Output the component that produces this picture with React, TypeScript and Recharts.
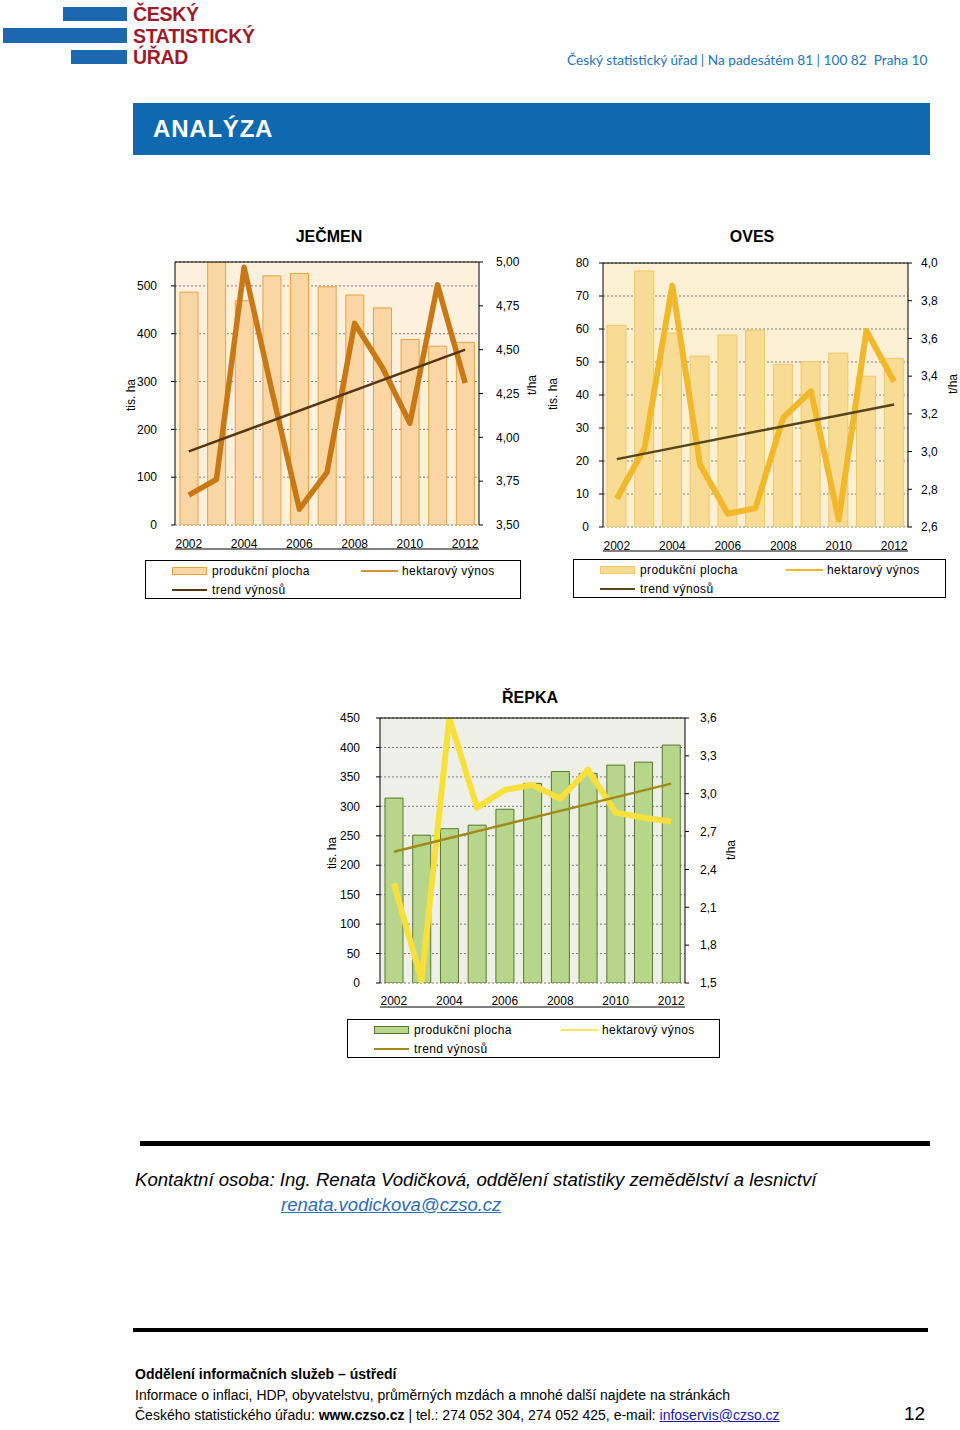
import React from 'react';
import { ComposedChart, Bar, Line, XAxis, YAxis, CartesianGrid, ReferenceLine } from 'recharts';

// ---------- data ----------
const years = ['2002', '2003', '2004', '2005', '2006', '2007', '2008', '2009', '2010', '2011', '2012'];

// JEČMEN (barley)
const jecmenArea = [487, 550, 469, 521, 526, 498, 481, 454, 388, 374, 382];
const jecmenYield = [3.67, 3.76, 4.97, 4.27, 3.59, 3.8, 4.65, 4.4, 4.08, 4.87, 4.31];
const jecmenTrend = [3.92, null, null, null, null, null, null, null, null, null, 4.5];
const jecmenAreaTicks = [0, 100, 200, 300, 400, 500];
const jecmenYieldTicks = [3.5, 3.75, 4.0, 4.25, 4.5, 4.75, 5.0];

// OVES (oats)
const ovesArea = [61.1, 77.6, 58.8, 51.8, 58.2, 59.6, 49.3, 50.1, 52.7, 45.7, 51.1];
const ovesYield = [2.75, 3.02, 3.88, 2.93, 2.67, 2.7, 3.18, 3.32, 2.64, 3.64, 3.37];
const ovesTrend = [2.96, null, null, null, null, null, null, null, null, null, 3.25];
const ovesAreaTicks = [0, 10, 20, 30, 40, 50, 60, 70, 80];
const ovesYieldTicks = [2.6, 2.8, 3.0, 3.2, 3.4, 3.6, 3.8, 4.0];

// ŘEPKA (rapeseed)
const repkaArea = [314, 251, 262, 268, 295, 339, 359, 356, 370, 375, 404];
const repkaYield = [2.29, 1.52, 3.6, 2.89, 3.03, 3.07, 2.96, 3.19, 2.85, 2.81, 2.78];
const repkaTrend = [2.54, null, null, null, null, null, null, null, null, null, 3.08];
const repkaAreaTicks = [0, 50, 100, 150, 200, 250, 300, 350, 400, 450];
const repkaYieldTicks = [1.5, 1.8, 2.1, 2.4, 2.7, 3.0, 3.3, 3.6];

const legendLabels = ['produkční plocha', 'hektarový výnos', 'trend výnosů'];
const axisTitles = ['tis. ha', 't/ha'];

const FONT = '"Liberation Sans", Arial, Helvetica, sans-serif';

type Cfg = {
  left: number; top: number; width: number; height: number;
  margin: { top: number; right: number; bottom: number; left: number };
  area: number[]; yld: number[]; trend: (number | null)[];
  leftTicks: number[]; leftMax: number;
  rightTicks: number[]; rightDecimals: number;
  bg: string; barFill: string; barStroke: string; barSize: number;
  yieldColor: string; yieldWidth: number; trendColor: string;
  leftTickMargin: number; rightTickMargin: number; xTickMargin: number;
};

function fmtComma(v: number, d: number) {
  return v.toFixed(d).replace('.', ',');
}

function CropChart({ c }: { c: Cfg }) {
  const data = years.map((y, i) => ({ year: y, area: c.area[i], yld: c.yld[i], trend: c.trend[i] }));
  const boundaryTicks = years.map((_, i) => i).concat([years.length]);
  const tickStyle = { fill: '#000', fontSize: 12, fontFamily: FONT };
  return (
    <div style={{ position: 'absolute', left: c.left, top: c.top }}>
      <ComposedChart width={c.width} height={c.height} data={data} margin={c.margin}>
        <CartesianGrid
          xAxisId="cat"
          yAxisId="l"
          vertical={false}
          stroke="#7a7a7a"
          strokeDasharray="2 2"
          fill={c.bg}
          fillOpacity={1}
        />
        <XAxis
          xAxisId="tk"
          type="number"
          domain={[0, years.length]}
          ticks={boundaryTicks}
          allowDataOverflow
          height={1}
          tick={false}
          tickSize={5}
          stroke="#000"
        />
        <XAxis
          xAxisId="cat"
          dataKey="year"
          interval={0}
          height={24}
          axisLine={false}
          tickLine={false}
          tickSize={0}
          tickMargin={c.xTickMargin}
          tick={tickStyle}
          tickFormatter={(v: string, i: number) => (i % 2 === 0 ? v : '')}
        />
        <YAxis
          yAxisId="l"
          width={40}
          domain={[0, c.leftMax]}
          ticks={c.leftTicks}
          allowDataOverflow
          stroke="#000"
          tickSize={4}
          tickMargin={c.leftTickMargin}
          tick={tickStyle}
        />
        <YAxis
          yAxisId="r"
          orientation="right"
          width={40}
          domain={[c.rightTicks[0], c.rightTicks[c.rightTicks.length - 1]]}
          ticks={c.rightTicks}
          allowDataOverflow
          stroke="#000"
          tickSize={4}
          tickMargin={c.rightTickMargin}
          tick={tickStyle}
          tickFormatter={(v: number) => fmtComma(v, c.rightDecimals)}
        />
        <Bar
          xAxisId="cat"
          yAxisId="l"
          dataKey="area"
          fill={c.barFill}
          stroke={c.barStroke}
          strokeWidth={1}
          barSize={c.barSize}
          isAnimationActive={false}
        />
        <Line
          xAxisId="cat"
          yAxisId="r"
          dataKey="yld"
          type="linear"
          stroke={c.yieldColor}
          strokeWidth={c.yieldWidth}
          strokeLinejoin="round"
          dot={false}
          activeDot={false}
          isAnimationActive={false}
        />
        <Line
          xAxisId="cat"
          yAxisId="r"
          dataKey="trend"
          type="linear"
          connectNulls
          stroke={c.trendColor}
          strokeWidth={2.5}
          dot={false}
          activeDot={false}
          isAnimationActive={false}
        />
        <ReferenceLine xAxisId="cat" yAxisId="l" y={c.leftMax} stroke="#000" strokeWidth={1} />
      </ComposedChart>
    </div>
  );
}

function VText({ x, y, text }: { x: number; y: number; text: string }) {
  return (
    <div
      style={{
        position: 'absolute', left: x, top: y, transform: 'translate(-50%, -50%) rotate(-90deg)',
        whiteSpace: 'nowrap', fontSize: 12, fontFamily: FONT, color: '#000',
      }}
    >
      {text}
    </div>
  );
}

type LegendCfg = {
  x: number; y: number; w: number; h: number;
  barFill: string; barStroke: string; yieldColor: string; trendColor: string;
  col2: number;
};

function LegendBox({ l }: { l: LegendCfg }) {
  const txt: React.CSSProperties = {
    position: 'absolute', fontSize: 12, fontFamily: FONT, letterSpacing: 0.4, whiteSpace: 'nowrap', lineHeight: '14px',
  };
  return (
    <div style={{ position: 'absolute', left: l.x, top: l.y, width: l.w, height: l.h, border: '1px solid #000', boxSizing: 'border-box', background: '#fff' }}>
      <div style={{ position: 'absolute', left: 26, top: 6, width: 35, height: 8, background: l.barFill, border: `1px solid ${l.barStroke}`, boxSizing: 'border-box' }} />
      <div style={{ ...txt, left: 66, top: 3 }}>{legendLabels[0]}</div>
      <div style={{ position: 'absolute', left: l.col2, top: 9, width: 37, height: 2, background: l.yieldColor }} />
      <div style={{ ...txt, left: l.col2 + 41, top: 3 }}>{legendLabels[1]}</div>
      <div style={{ position: 'absolute', left: 26, top: 28, width: 35, height: 2, background: l.trendColor }} />
      <div style={{ ...txt, left: 66, top: 22 }}>{legendLabels[2]}</div>
    </div>
  );
}

const jecmenCfg: Cfg = {
  left: 120, top: 250, width: 440, height: 310,
  margin: { top: 12, right: 41, bottom: 10, left: 15 },
  area: jecmenArea, yld: jecmenYield, trend: jecmenTrend,
  leftTicks: jecmenAreaTicks, leftMax: 550,
  rightTicks: jecmenYieldTicks, rightDecimals: 2,
  bg: '#fdf0dd', barFill: '#f9d6a4', barStroke: '#e5a346', barSize: 18,
  yieldColor: '#c97816', yieldWidth: 5.5, trendColor: '#553612',
  leftTickMargin: 14, rightTickMargin: 13, xTickMargin: 14,
};

const ovesCfg: Cfg = {
  left: 548, top: 250, width: 412, height: 312,
  margin: { top: 13, right: 12, bottom: 10, left: 15 },
  area: ovesArea, yld: ovesYield, trend: ovesTrend,
  leftTicks: ovesAreaTicks, leftMax: 80,
  rightTicks: ovesYieldTicks, rightDecimals: 1,
  bg: '#fcf0d4', barFill: '#f8dc95', barStroke: '#f0c766', barSize: 19,
  yieldColor: '#f0b82a', yieldWidth: 6, trendColor: '#574418',
  leftTickMargin: 10, rightTickMargin: 9, xTickMargin: 14,
};

const repkaCfg: Cfg = {
  left: 320, top: 705, width: 420, height: 313,
  margin: { top: 13, right: 15, bottom: 10, left: 20 },
  area: repkaArea, yld: repkaYield, trend: repkaTrend,
  leftTicks: repkaAreaTicks, leftMax: 450,
  rightTicks: repkaYieldTicks, rightDecimals: 1,
  bg: '#eef0e8', barFill: '#b8d68b', barStroke: '#56772a', barSize: 18,
  yieldColor: '#f8e03c', yieldWidth: 6, trendColor: '#a08b18',
  leftTickMargin: 16, rightTickMargin: 11, xTickMargin: 13,
};

const title: React.CSSProperties = {
  position: 'absolute', fontFamily: FONT, fontWeight: 'bold', fontSize: 16, transform: 'translate(-50%, -50%)', whiteSpace: 'nowrap',
};

const footFont = '"Liberation Sans", Arial, sans-serif';

export default function App() {
  return (
    <div style={{ position: 'absolute', left: 0, top: 0, width: 960, height: 1430, background: '#fff', fontFamily: FONT, overflow: 'hidden' }}>
      {/* Logo */}
      <div style={{ position: 'absolute', left: 63, top: 7, width: 64, height: 14, background: '#1b68ae' }} />
      <div style={{ position: 'absolute', left: 3, top: 28, width: 124, height: 15, background: '#1b68ae' }} />
      <div style={{ position: 'absolute', left: 71, top: 50, width: 56, height: 14, background: '#1b68ae' }} />
      <div style={{ position: 'absolute', left: 133, top: 4, color: '#9c1b2b', fontWeight: 'bold', fontSize: 19.5, lineHeight: '21.5px', letterSpacing: -0.3 }}>
        <div>ČESKÝ</div>
        <div>STATISTICKÝ</div>
        <div>ÚŘAD</div>
      </div>
      <div style={{ position: 'absolute', left: 567, top: 51, color: '#2375b5', fontFamily: 'Lato, "Noto Sans", sans-serif', fontSize: 13.7, whiteSpace: 'pre' }}>
        {'Český statistický úřad | Na padesátém 81 | 100 82  Praha 10'}
      </div>
      {/* Band */}
      <div style={{ position: 'absolute', left: 133, top: 103, width: 797, height: 52, background: '#0f69b0' }}>
        <div style={{ position: 'absolute', left: 20, top: 12, color: '#fff', fontWeight: 'bold', fontSize: 24, letterSpacing: 0.8 }}>ANALÝZA</div>
      </div>

      {/* Titles */}
      <div style={{ ...title, left: 329, top: 237 }}>JEČMEN</div>
      <div style={{ ...title, left: 752, top: 237 }}>OVES</div>
      <div style={{ ...title, left: 530, top: 698 }}>ŘEPKA</div>

      <CropChart c={jecmenCfg} />
      <CropChart c={ovesCfg} />
      <CropChart c={repkaCfg} />

      <VText x={131} y={395} text={axisTitles[0]} />
      <VText x={532} y={385} text={axisTitles[1]} />
      <VText x={553} y={394} text={axisTitles[0]} />
      <VText x={953} y={384} text={axisTitles[1]} />
      <VText x={332} y={853} text={axisTitles[0]} />
      <VText x={731} y={850} text={axisTitles[1]} />

      <LegendBox l={{ x: 145, y: 560, w: 376, h: 39, barFill: jecmenCfg.barFill, barStroke: jecmenCfg.barStroke, yieldColor: '#d9902e', trendColor: jecmenCfg.trendColor, col2: 215 }} />
      <LegendBox l={{ x: 573, y: 559, w: 373, h: 39, barFill: ovesCfg.barFill, barStroke: ovesCfg.barStroke, yieldColor: ovesCfg.yieldColor, trendColor: ovesCfg.trendColor, col2: 212 }} />
      <LegendBox l={{ x: 347, y: 1019, w: 373, h: 39, barFill: repkaCfg.barFill, barStroke: repkaCfg.barStroke, yieldColor: '#f9e65a', trendColor: repkaCfg.trendColor, col2: 213 }} />

      {/* Contact */}
      <div style={{ position: 'absolute', left: 140, top: 1141, width: 790, height: 5, background: '#000' }} />
      <div style={{ position: 'absolute', left: 135, top: 1169, fontStyle: 'italic', fontSize: 18.6, whiteSpace: 'nowrap' }}>
        Kontaktní osoba: Ing. Renata Vodičková, oddělení statistiky zemědělství a lesnictví
      </div>
      <div style={{ position: 'absolute', left: 281, top: 1194, fontStyle: 'italic', fontSize: 18.5, color: '#2f6db2', textDecoration: 'underline', whiteSpace: 'nowrap' }}>
        renata.vodickova@czso.cz
      </div>

      {/* Footer */}
      <div style={{ position: 'absolute', left: 133, top: 1328, width: 795, height: 4, background: '#000' }} />
      <div style={{ position: 'absolute', left: 135, top: 1366, fontFamily: footFont, fontSize: 14, fontWeight: 'bold', whiteSpace: 'nowrap' }}>
        Oddělení informačních služeb – ústředí
      </div>
      <div style={{ position: 'absolute', left: 135, top: 1387, fontFamily: footFont, fontSize: 14, whiteSpace: 'nowrap' }}>
        Informace o inflaci, HDP, obyvatelstvu, průměrných mzdách a mnohé další najdete na stránkách
      </div>
      <div style={{ position: 'absolute', left: 135, top: 1407, fontFamily: footFont, fontSize: 14, whiteSpace: 'pre' }}>
        {'Českého statistického úřadu: '}<b>www.czso.cz</b>{' | tel.: 274 052 304, 274 052 425, e-mail: '}
        <span style={{ color: '#1a1aa6', textDecoration: 'underline' }}>infoservis@czso.cz</span>
      </div>
      <div style={{ position: 'absolute', left: 904, top: 1403, fontFamily: footFont, fontSize: 19 }}>12</div>
    </div>
  );
}
